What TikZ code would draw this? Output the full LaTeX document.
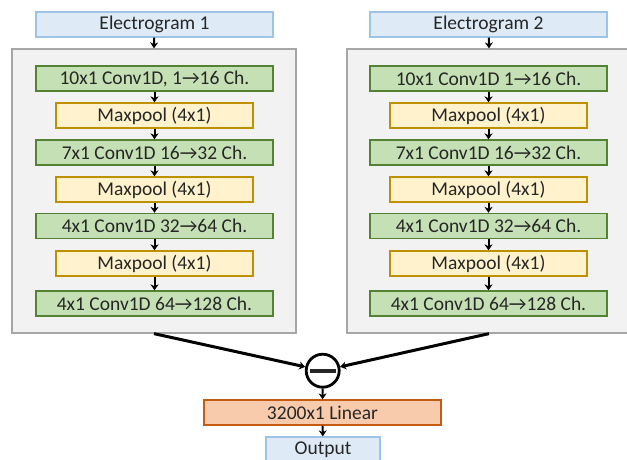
\documentclass[tikz,border=0pt]{standalone}
\usepackage{fontspec}
\setmainfont{Carlito}
\usetikzlibrary{arrows.meta}
\definecolor{inblue}{HTML}{DEEBF7}
\definecolor{inblueline}{HTML}{9DC3E6}
\definecolor{panelgray}{HTML}{F2F2F2}
\definecolor{panelline}{HTML}{A6A6A6}
\definecolor{convgreen}{HTML}{C5E0B4}
\definecolor{convline}{HTML}{548235}
\definecolor{poolyellow}{HTML}{FFF2CC}
\definecolor{poolline}{HTML}{BF9000}
\definecolor{linorange}{HTML}{F8CBAD}
\definecolor{linline}{HTML}{C55A11}
\definecolor{txtgray}{HTML}{262626}
\begin{document}
\begin{tikzpicture}[x=1pt,y=-1pt,
  >={Stealth[length=6pt,width=8pt]},
  font=\fontsize{19.5}{23}\selectfont,
  every node/.style={inner sep=0pt,text=txtgray},
  iobox/.style={draw=inblueline,fill=inblue,line width=1.3pt,minimum width=237pt,minimum height=25pt},
  panel/.style={draw=panelline,fill=panelgray,line width=1.3pt,minimum width=284pt,minimum height=284pt},
  convbox/.style={draw=convline,fill=convgreen,line width=1.3pt,minimum width=237pt,minimum height=25pt},
  poolbox/.style={draw=poolline,fill=poolyellow,line width=1.3pt,minimum width=197pt,minimum height=25pt},
  flow/.style={draw,black,line width=2pt,->},
  merge/.style={draw,black,line width=3pt,->}]
\path[use as bounding box,clip] (0,0) rectangle (627,460);

\begin{scope}
\node[iobox] (inA) at (154.5,24.5) {Electrogram 1};
\node[panel] (grayA) at (154,191) {};
\node[convbox] (convA1) at (154.5,78.5) {10x1 Conv1D, 1→16 Ch.};
\node[poolbox] (poolA1) at (154.5,115.5) {Maxpool (4x1)};
\node[convbox] (convA2) at (154.5,152.5) {7x1 Conv1D 16→32 Ch.};
\node[poolbox] (poolA2) at (154.5,189.5) {Maxpool (4x1)};
\node[convbox] (convA3) at (154.5,226) {4x1 Conv1D 32→64 Ch.};
\node[poolbox] (poolA3) at (154.5,263.5) {Maxpool (4x1)};
\node[convbox] (convA4) at (154.5,303.5) {4x1 Conv1D 64→128 Ch.};

\path[flow] (inA) -- (grayA.north);
\path[flow] (convA1) -- (poolA1);
\path[flow] (poolA1) -- (convA2);
\path[flow] (convA2) -- (poolA2);
\path[flow] (poolA2) -- (convA3);
\path[flow] (convA3) -- (poolA3);
\path[flow] (poolA3) -- (convA4);
\end{scope}

\begin{scope}
\node[iobox] (inB) at (488.5,24.5) {Electrogram 2};
\node[panel] (grayB) at (489,191) {};
\node[convbox] (convB1) at (488.5,78.5) {10x1 Conv1D 1→16 Ch.};
\node[poolbox] (poolB1) at (488.5,115.5) {Maxpool (4x1)};
\node[convbox] (convB2) at (488.5,152.5) {7x1 Conv1D 16→32 Ch.};
\node[poolbox] (poolB2) at (488.5,189.5) {Maxpool (4x1)};
\node[convbox] (convB3) at (488.5,226) {4x1 Conv1D 32→64 Ch.};
\node[poolbox] (poolB3) at (488.5,263.5) {Maxpool (4x1)};
\node[convbox] (convB4) at (488.5,303.5) {4x1 Conv1D 64→128 Ch.};

\path[flow] (inB) -- (grayB.north);
\path[flow] (convB1) -- (poolB1);
\path[flow] (poolB1) -- (convB2);
\path[flow] (convB2) -- (poolB2);
\path[flow] (poolB2) -- (convB3);
\path[flow] (convB3) -- (poolB3);
\path[flow] (poolB3) -- (convB4);
\end{scope}

% difference and head
\node[draw,circle,line width=2.8pt,minimum size=33pt] (diff) at (322.7,370.7) {\rule{26pt}{3.8pt}};
\node[draw=linline,fill=linorange,line width=1.3pt,minimum width=237pt,minimum height=25pt] (lin) at (322.5,412.5) {3200x1 Linear};
\node[iobox,minimum width=114pt] (out) at (323,449.5) {Output};

\path[merge] (grayA.south) -- (diff);
\path[merge] (grayB.south) -- (diff);
\path[flow] (diff) -- (lin);
\path[flow] (lin) -- (out);
\end{tikzpicture}
\end{document}
